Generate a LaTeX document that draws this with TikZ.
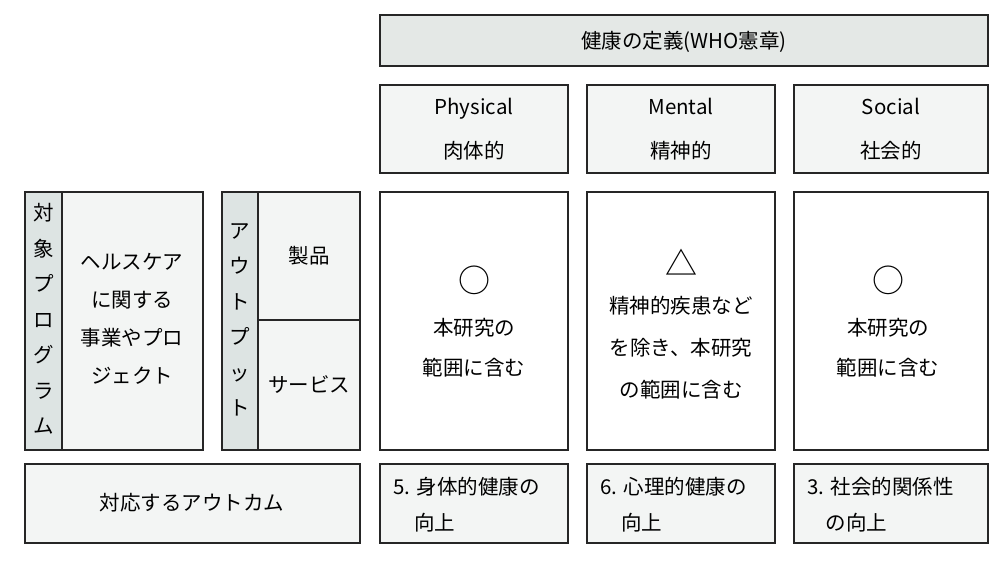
\documentclass[tikz,border=0pt]{standalone}
\usepackage{fontspec}
\setmainfont{Noto Sans CJK JP}
\begin{document}
\begin{tikzpicture}[x=1pt,y=-1pt,
 bx/.style={draw=black!85,line width=1.6pt},
 lt/.style={fill={rgb,255:red,243;green,245;blue,244}},
 dk/.style={fill={rgb,255:red,221;green,228;blue,227}},
 hd/.style={fill={rgb,255:red,228;green,232;blue,230}},
 tx/.style={font=\fontsize{20.5}{40}\selectfont,align=center},
 vt/.style={font=\fontsize{20.5}{35.5}\selectfont,align=center}]
\useasboundingbox (0,0) rectangle (1000,565);
% header
\draw[bx,hd] (380,15) rectangle (988,66);
\node[tx] (hdr) at (684,42) {健康の定義(WHO憲章)};
% columns
\foreach \xa/\xb/\nm/\en/\ja in {380/568/p/Physical/肉体的,587/775/m/Mental/精神的,794/988/s/Social/社会的}{
 \draw[bx,lt] (\xa,85) rectangle (\xb,173);
 \node[tx,font=\fontsize{20.5}{44}\selectfont] (\nm h) at ({(\xa+\xb)/2},129) {\en\\\ja};
 \draw[bx,fill=white] (\xa,192) rectangle (\xb,450);
 \draw[bx,lt] (\xa,464) rectangle (\xb,543);
}
\node[tx] (pc) at (474,348) {本研究の\\範囲に含む};
\node[font=\fontsize{32}{32}\selectfont] (pm) at (474,280) {○};
\node[font=\fontsize{32}{32}\selectfont] (mm) at (681,262) {△};
\node[tx,font=\fontsize{20.5}{42}\selectfont] (mc) at (681,348) {精神的疾患など\\を除き、本研究\\の範囲に含む};
\node[font=\fontsize{32}{32}\selectfont] (sm) at (888,280) {○};
\node[tx] (sc) at (888,348) {本研究の\\範囲に含む};
\node[tx,font=\fontsize{20.5}{36}\selectfont,align=left,anchor=west] (po) at (390,505) {5. 身体的健康の\\\hspace{1em}向上};
\node[tx,font=\fontsize{20.5}{36}\selectfont,align=left,anchor=west] (mo) at (597,505) {6. 心理的健康の\\\hspace{1em}向上};
\node[tx,font=\fontsize{20.5}{36}\selectfont,align=left,anchor=west] (so) at (804,505) {3. 社会的関係性\\\hspace{0.9em}の向上};
% left group
\draw[bx,lt] (25,192) rectangle (203,450);
\draw[bx,dk] (25,192) rectangle (62,450);
\node[vt] (tp) at (43.5,319) {対\\象\\プ\\ロ\\グ\\ラ\\ム};
\node[tx,font=\fontsize{20.5}{38}\selectfont] (hc) at (132,319) {ヘルスケア\\に関する\\事業やプロ\\ジェクト};
% output group
\draw[bx,lt] (222,192) rectangle (360,450);
\draw[bx,dk] (222,192) rectangle (258,450);
\draw[bx] (258,320) -- (360,320);
\node[vt] (op) at (240,320) {ア\\ウ\\ト\\プ\\ッ\\ト};
\node[tx] (sei) at (309,256) {製品};
\node[tx] (svc) at (309,385) {サービス};
% outcome
\draw[bx,lt] (25,464) rectangle (360,543);
\node[tx] (out) at (192,503) {対応するアウトカム};
\end{tikzpicture}
\end{document}
